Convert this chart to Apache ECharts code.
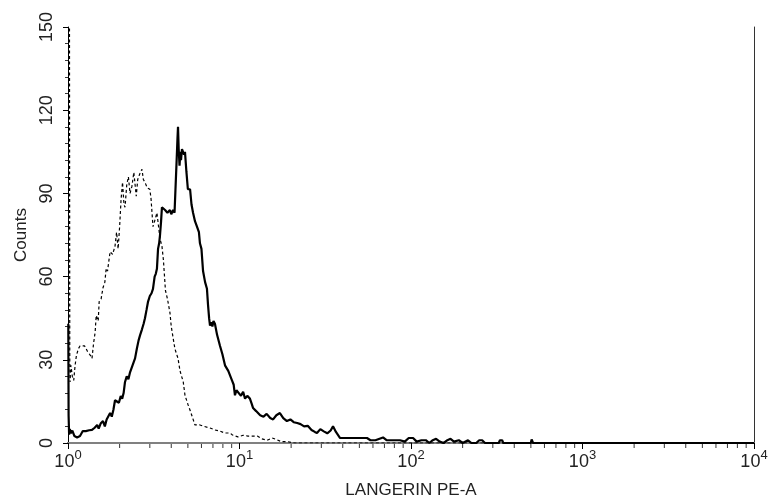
<!DOCTYPE html>
<html>
<head>
<meta charset="utf-8">
<script src="https://cdn.jsdelivr.net/npm/echarts@6/dist/echarts.min.js"></script>
<style>html,body{margin:0;padding:0;background:#fff}#c{width:776px;height:504px}</style>
</head>
<body>
<div id="c"></div>
<script>
// Solid histogram (stained)
var solidX = [1.004,1.008,1.015,1.025,1.04,1.06,1.09,1.13,1.175,1.22,1.27,1.33,1.38,1.43,1.48,1.51,1.55,1.6,1.64,1.68,1.72,1.76,1.8,1.84,1.88,1.93,1.98,2.03,2.07,2.11,2.15,2.2,2.25,2.3,2.36,2.41,2.46,2.52,2.58,2.63,2.7,2.76,2.81,2.87,2.93,3.0,3.07,3.13,3.2,3.25,3.3,3.35,3.4,3.44,3.49,3.53,3.6,3.68,3.8,3.93,4.0,4.1,4.18,4.26,4.3,4.35,4.38,4.42,4.47,4.52,4.56,4.62,4.68,4.75,4.81,4.9,5.0,5.1,5.15,5.25,5.36,5.5,5.65,5.73,5.8,5.88,6.0,6.13,6.3,6.46,6.55,6.65,6.73,6.85,6.95,7.05,7.19,7.4,7.7,7.95,8.23,8.6,9.04,9.25,9.41,9.6,9.8,10.2,10.5,10.77,11.1,11.5,11.8,12.0,12.5,13.2,13.8,14.4,15.1,15.7,16.4,17.2,18.0,18.9,19.8,20.7,21.7,22.7,23.8,25,26.3,27.5,28.3,29.6,31,32.5,34,35.1,36.5,38.6,42,46,50,55.4,58,62,68.7,72,78,86.3,92,97,102.8,108,115,122,128,134,140,147,155,163,170,178,190,200,215,225,240,250,260,270,300,325,330,340,345,400,500,505,515,600,1000,3000,10000];
var solidY = [43,10,3,5,3.5,4.5,2.5,2,2.5,4.3,4.3,4.6,4.7,5.5,6.5,5.2,7,7.9,6,8.5,8,10.8,9.5,12,15.4,15.8,14.5,16.9,16,18,22,24,23,25.5,25,29,30.5,34,37,38.8,41,43,45,48,51,53,54,55.6,60,61,62.8,70,72,75,80,85,85,84,83,84,82.5,84,83,83,102,110,114,106,100,105,102,106,106,104,105,98,91.5,92,91.5,86,83,80,78,77.5,76,72,70,62,58,55.6,50,45,42.3,43.5,42,44,43,39,35,32,28,26,22.6,21,17.2,19,19.7,17,18.5,16,17,16,14,12.6,11.5,10,9.5,10.5,9,8.5,10,10.8,9,7.9,8.5,7.5,7.2,6.8,6,6.2,4.7,4,3.6,5,4.2,3.5,4.5,6,4,1.8,1.8,1.8,1.8,1.8,1,1,2,1,1,1,0.5,1.8,1.8,0.5,1,1,0,1,1.5,0.5,0,1,1.5,0.5,1,0,1,0,0,1,1,0,0,0,1,1,0,0,0,1.3,0,0,0,0,0];
// Dashed histogram (control)
var dashX = [1.02,1.022,1.024,1.028,1.04,1.06,1.08,1.1,1.12,1.15,1.175,1.2,1.25,1.3,1.35,1.38,1.41,1.44,1.46,1.5,1.52,1.56,1.6,1.64,1.67,1.7,1.76,1.82,1.88,1.92,1.96,2.0,2.04,2.08,2.12,2.15,2.2,2.25,2.3,2.36,2.42,2.5,2.55,2.62,2.7,2.75,2.81,2.9,3.0,3.05,3.13,3.2,3.3,3.44,3.53,3.6,3.7,3.8,3.93,4.0,4.2,4.38,4.5,4.7,4.81,5.0,5.15,5.3,5.5,5.88,6.2,6.73,7.2,7.7,8.2,8.8,9.1,9.8,10.5,11.2,12.0,12.7,13.5,14.5,15.5,16.5,17.5,19,21,10000];
var dashY = [149.5,149.5,30,22,28,24,22.6,28,31.6,34,35,35.5,35,33,31.6,30.5,36,40,46,44,51,52,56,58,63,62,69,68,71,76,70,78,88,94,86,85,93,96,90,92.6,97.6,89,95,97,98.7,95,94,92,91.5,88,78,80,83,73.6,71,66,55,52,47,42,34,30.5,26,22,17.2,14,11.8,9.5,6.5,6.5,6,5.4,4.7,4.3,3.6,3.6,2.9,2.2,2.8,2.5,2.5,2.5,1.5,1,1.8,1.2,0.5,0.5,0,0];
// Axis ticks
var yTicks = [0,30,60,90,120,150];
var xDecades = [1,10,100,1000,10000];
var xMinor = [2,3,4,5,6,7,8,9,20,30,40,50,60,70,80,90,200,300,400,500,600,700,800,900,2000,3000,4000,5000,6000,7000,8000,9000];

function pairs(xs, ys){ return xs.map(function(x,i){return [x, ys[i]];}); }

var chart = echarts.init(document.getElementById('c'), null, {renderer:'canvas'});
var font = '"Liberation Sans", Arial, sans-serif';
chart.setOption({
  animation: false,
  backgroundColor: '#fff',
  grid: {left: 68, right: 22, top: 27, bottom: 59, containLabel: false},
  xAxis: [{
    type: 'log', logBase: 10, min: xDecades[0], max: xDecades[xDecades.length-1],
    name: 'LANGERIN PE-A', nameLocation: 'middle', nameGap: 39,
    nameTextStyle: {fontFamily: font, fontSize: 17, color: '#222'},
    axisLine: {lineStyle: {color: '#000', width: 1.5}},
    axisTick: {show: true, length: 6, lineStyle: {color: '#000'}},
    splitLine: {show: false},
    axisLabel: {
      margin: 3, color: '#222', fontFamily: font,
      formatter: function(v){ var e = Math.round(Math.log10(v)); return '{b|10}{s|' + e + '}'; },
      rich: {
        b: {fontSize: 18, fontFamily: font, color: '#222', padding: [7,0,0,0]},
        s: {fontSize: 13, fontFamily: font, color: '#222', padding: [0,0,6,0]}
      }
    }
  }, {
    type: 'log', logBase: 10, min: 1, max: 10000, position: 'top',
    axisLine: {lineStyle: {color: '#808080', width: 2}},
    axisTick: {show: false}, axisLabel: {show: false}, splitLine: {show: false}
  }],
  yAxis: [{
    type: 'value', min: yTicks[0], max: yTicks[yTicks.length-1], interval: 30,
    name: 'Counts', nameLocation: 'middle', nameGap: 38, nameRotate: 90,
    nameTextStyle: {fontFamily: font, fontSize: 17, color: '#222'},
    axisLine: {show: true, lineStyle: {color: '#000', width: 1}},
    axisTick: {show: true, length: 5, lineStyle: {color: '#000'}},
    minorTick: {show: true, splitNumber: 5, length: 3, lineStyle: {color: '#333'}},
    splitLine: {show: false},
    axisLabel: {rotate: 90, margin: 12, fontSize: 18, fontFamily: font, color: '#222'}
  }, {
    type: 'value', min: 0, max: 150, position: 'right',
    axisLine: {show: true, lineStyle: {color: '#333', width: 1}},
    axisTick: {show: false}, axisLabel: {show: false}, splitLine: {show: false}
  }],
  series: [{
    type: 'line', data: pairs(dashX, dashY), showSymbol: false, symbol: 'none',
    lineStyle: {color: '#000', width: 1.2, type: [3, 2.5]}, clip: true, z: 4
  }, {
    type: 'line', data: pairs(solidX, solidY), showSymbol: false, symbol: 'none',
    lineStyle: {color: '#000', width: 2.2}, clip: true, z: 3
  }, {
    type: 'scatter', data: xMinor.map(function(x){return [x, 0];}),
    symbol: 'rect', symbolSize: [1, 4], symbolOffset: [0, 3],
    itemStyle: {color: '#000'}, clip: false, silent: true, z: 1
  }]
});
</script>
</body>
</html>
